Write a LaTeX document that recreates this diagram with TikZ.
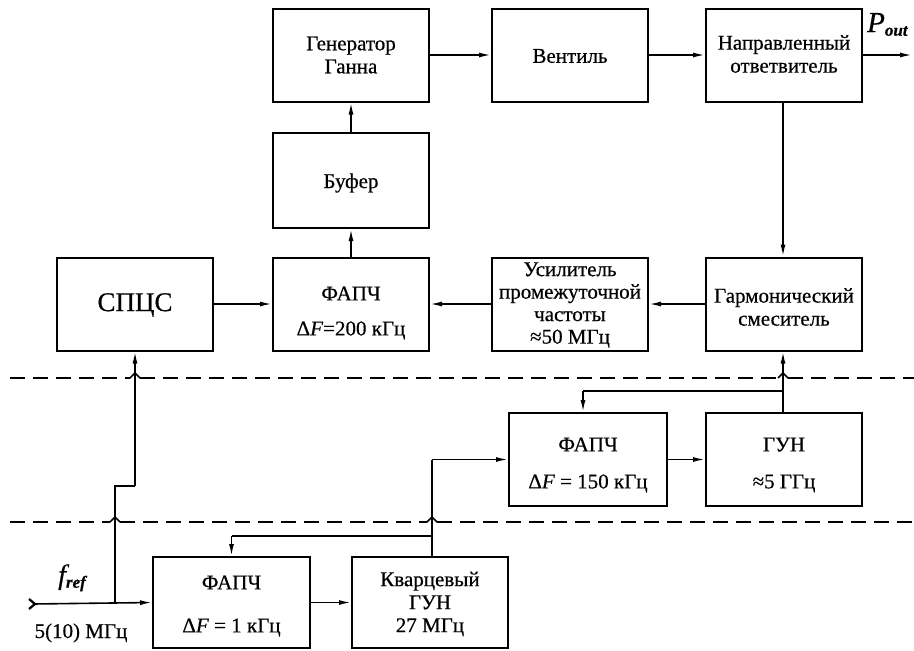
\documentclass[tikz,border=0pt]{standalone}
\usepackage{fontspec}
\setmainfont{Liberation Serif}[FakeBold=0.5]
\usetikzlibrary{arrows.meta}
\begin{document}
\begin{tikzpicture}[x=1pt,y=-1pt,
  blk/.style={draw,line width=2pt,inner sep=0pt,minimum width=156pt,minimum height=93pt},
  txt/.style={inner sep=0pt,align=center,font=\fontsize{21}{23}\selectfont},
  conn/.style={line width=1.6pt,-{Latex[length=12pt,width=5pt]}},
  wire/.style={line width=1.6pt},
  dashline/.style={line width=1.5pt,dash pattern=on 15pt off 8pt},
  hop/.style={line width=1.5pt},
  lbl/.style={inner sep=0pt,font=\fontsize{21}{23}\selectfont}]
\useasboundingbox (0,0) rectangle (914,651);
% boxes
\node[blk] (gunn) at (351,55) {};
\node[blk] (vent) at (570,55) {};
\node[blk] (dir) at (784,55) {};
\node[blk,minimum height=95pt] (buf) at (351,180.5) {};
\node[blk] (spcs) at (135,304) {};
\node[blk] (pllA) at (351,304) {};
\node[blk] (amp) at (570,304) {};
\node[blk] (mix) at (784,304) {};
\node[blk,minimum width=158pt] (pllB) at (588,459.5) {};
\node[blk] (vco) at (784,459.5) {};
\node[blk,minimum width=157pt,minimum height=91pt] (pllC) at (231.5,602.5) {};
\node[blk,minimum height=91pt] (xo) at (430,602.5) {};
% texts
\node[txt] (gunnT) at (351,55) {Генератор\\Ганна};
\node[txt] (ventT) at (570,56) {Вентиль};
\node[txt] (dirT) at (784,54) {Направленный\\ответвитель};
\node[txt] (bufT) at (351,183) {Буфер};
\node[txt,font=\fontsize{27}{30}\selectfont] (spcsT) at (135,305) {СПЦС};
\node[txt,font=\fontsize{21}{35}\selectfont] (pllAT) at (351,313) {ФАПЧ\\Δ\textit{F}=200 кГц};
\node[txt,font=\fontsize{21}{22.5}\selectfont] (ampT) at (570,305) {Усилитель\\промежуточной\\частоты\\≈50 МГц};
\node[txt] (mixT) at (784,307) {Гармонический\\смеситель};
\node[txt,font=\fontsize{21}{37}\selectfont] (pllBT) at (588,465) {ФАПЧ\\Δ\textit{F} = 150 кГц};
\node[txt,font=\fontsize{21}{37}\selectfont] (vcoT) at (784,465) {ГУН\\≈5 ГГц};
\node[txt,font=\fontsize{21}{43}\selectfont] (pllCT) at (231.5,606) {ФАПЧ\\Δ\textit{F} = 1 кГц};
\node[txt,font=\fontsize{21}{23}\selectfont] (xoT) at (430,604) {Кварцевый\\ГУН\\27 МГц};
% labels
\node[lbl,font=\fontsize{29}{30}\selectfont\itshape,anchor=base west] (pout) at (867,32) {P\textsubscript{\fontsize{17}{17}\selectfont\bfseries out}};
\node[lbl,font=\fontsize{28}{30}\selectfont\itshape,anchor=base west] (fref) at (58,584) {f\textsubscript{\fontsize{17}{17}\selectfont\bfseries ref}};
\node[lbl,anchor=base] (fval) at (81,638) {5(10) МГц};
% coordinates
\coordinate (outend) at (912,55);
\coordinate (inS) at (33,604);
\coordinate (br1) at (115,604);
\coordinate (br1a) at (115,486);
\coordinate (br1b) at (135,486);
\coordinate (fb1) at (783,391);
\coordinate (fb1b) at (583,391);
\coordinate (xoTop) at (432,557);
\coordinate (xoC) at (432,459.5);
\coordinate (fb2) at (432,536);
\coordinate (fb2b) at (231.5,536);
% top connectors
\draw[conn] (gunn.east) -- (vent.west);
\draw[conn] (vent.east) -- (dir.west);
\draw[conn] (dir.east) -- (outend);
\draw[conn] (dir.south -| 783,0) -- (mix.north -| 783,0);
\draw[conn] (buf.north) -- (gunn.south);
\draw[conn] (pllA.north) -- (buf.south);
\draw[conn] (spcs.east) -- (pllA.west);
\draw[conn] (mix.west) -- (amp.east);
\draw[conn] (amp.west) -- (pllA.east);
% VCO feedback
\draw[conn] (vco.north -| 783,0) -- (mix.south -| 783,0);
\draw[wire] (fb1) -- (fb1b);
\draw[conn] (fb1b) -- (pllB.north -| fb1b);
\draw[conn] (pllB.east) -- (vco.west);
% quartz
\draw[wire] (xoTop) -- (xoC);
\draw[conn] (xoC) -- (pllB.west);
\draw[wire] (fb2) -- (fb2b);
\draw[conn] (fb2b) -- (pllC.north);
\draw[conn] (pllC.east) -- (xo.west);
% reference
\draw[line width=2.2pt] (29,599) -- (35,604) -- (29,609);
\draw[conn] (inS) -- (pllC.west);
\draw[wire] (br1) -- (br1a) -- (br1b);
\draw[conn] (br1b) -- (spcs.south);
% dashed separators with hops
\draw[dashline] (10,378) -- (130,378);
\draw[hop] (130,378) -- (135,373) -- (140,378);
\draw[dashline] (140,378) -- (778,378);
\draw[hop] (778,378) -- (783,373) -- (788,378);
\draw[dashline] (788,378) -- (914,378);
\draw[dashline] (10,522) -- (110,522);
\draw[hop] (110,522) -- (115,517) -- (120,522);
\draw[dashline] (120,522) -- (427,522);
\draw[hop] (427,522) -- (432,517) -- (437,522);
\draw[dashline] (437,522) -- (914,522);
\end{tikzpicture}
\end{document}
